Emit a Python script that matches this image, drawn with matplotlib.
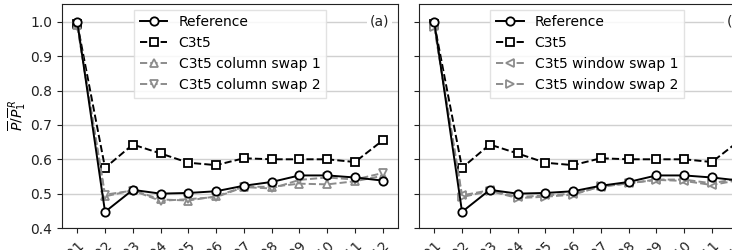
import matplotlib
matplotlib.use("Agg")
import matplotlib.pyplot as plt

# tick labels along x (only the ends of them are visible in the crop)
LABELS = ["P%02d" % i for i in range(1, 13)]

# values
REFERENCE = [1.0, 0.447, 0.511, 0.500, 0.502, 0.507, 0.523, 0.534, 0.553, 0.553, 0.547, 0.538]
C3T5 = [0.995, 0.575, 0.643, 0.617, 0.590, 0.583, 0.603, 0.600, 0.600, 0.600, 0.592, 0.655]
COL_SWAP_1 = [0.990, 0.492, 0.510, 0.483, 0.480, 0.492, 0.520, 0.520, 0.529, 0.527, 0.536, 0.552]
COL_SWAP_2 = [0.988, 0.497, 0.509, 0.479, 0.484, 0.490, 0.519, 0.515, 0.540, 0.547, 0.541, 0.560]
WIN_SWAP_1 = [0.987, 0.495, 0.510, 0.490, 0.495, 0.500, 0.520, 0.530, 0.540, 0.537, 0.525, 0.540]
WIN_SWAP_2 = [0.985, 0.490, 0.508, 0.487, 0.491, 0.497, 0.521, 0.530, 0.541, 0.541, 0.530, 0.545]

GRAY = "#8c8c8c"


def draw_panel(ax, swaps, tag):
    x = range(len(LABELS))
    kw = dict(lw=1.4, ms=6, mfc="white", mew=1.3)
    ax.plot(x, REFERENCE, "-o", color="black", label="Reference", zorder=4, **kw)
    ax.plot(x, C3T5, "--s", color="black", label="C3t5", zorder=3, **kw)
    for vals, marker, name in swaps:
        ax.plot(x, vals, "--", marker=marker, color=GRAY, label=name, zorder=3, **kw)
    ax.set_ylim(0.4, 1.052)
    ax.set_yticks([0.4, 0.5, 0.6, 0.7, 0.8, 0.9, 1.0])
    ax.set_xticks(list(x))
    ax.set_xticklabels(LABELS, rotation=45, ha="right", rotation_mode="anchor")
    ax.grid(axis="y", color="#d0d0d0", lw=1.0)
    ax.set_axisbelow(True)
    ax.tick_params(labelsize=10, colors="#222222")
    for s in ax.spines.values():
        s.set_color("#222222")
    ax.legend(loc="upper center", bbox_to_anchor=(0.5, 1.0), fontsize=10,
              frameon=True, fancybox=False, framealpha=0.85,
              edgecolor="#dddddd", borderaxespad=0.4)
    ax.text(0.915, 0.92, tag, transform=ax.transAxes, ha="left", va="center",
            fontsize=10, color="#222222",
            bbox=dict(facecolor="white", edgecolor="none", pad=2))


fig = plt.figure(figsize=(7.32, 2.5), dpi=100)
ax1 = fig.add_axes([62 / 732, 22 / 250, 336 / 732, 224 / 250])
ax2 = fig.add_axes([419 / 732, 22 / 250, 336 / 732, 224 / 250], sharey=ax1)

draw_panel(ax1, [(COL_SWAP_1, "^", "C3t5 column swap 1"),
                 (COL_SWAP_2, "v", "C3t5 column swap 2")], "(a)")
draw_panel(ax2, [(WIN_SWAP_1, "<", "C3t5 window swap 1"),
                 (WIN_SWAP_2, ">", "C3t5 window swap 2")], "(b)")
ax2.tick_params(labelleft=False)

ax1.set_ylabel(r"$\overline{P}/\overline{P}_1^{\,R}$", fontsize=10, labelpad=2)

fig.savefig("out.png", dpi=100)
